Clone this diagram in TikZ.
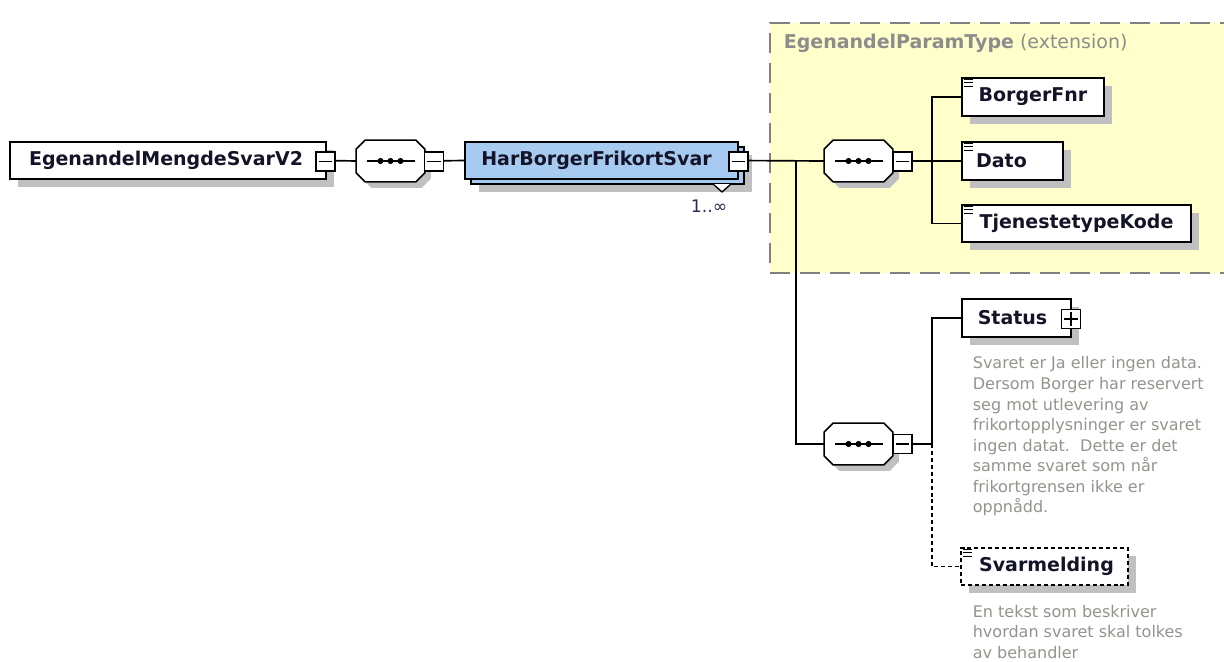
\documentclass[tikz,border=0pt]{standalone}
\usepackage{fontspec}
\setmainfont{DejaVu Sans}
\usetikzlibrary{shadows,calc}
\definecolor{shadowgray}{RGB}{192,192,194}
\definecolor{typeblue}{RGB}{166,202,240}
\definecolor{extyellow}{RGB}{255,255,204}
\definecolor{extborder}{RGB}{128,128,128}
\definecolor{desctext}{RGB}{150,146,140}
\definecolor{titletext}{RGB}{140,140,140}
\definecolor{labelcolor}{RGB}{20,20,40}
\definecolor{multcolor}{RGB}{48,40,80}
\newcommand{\spx}{0.75pt}
\newcommand{\lblfont}{\fontsize{14.25}{17}\selectfont\bfseries}
\newcommand{\dscfont}{\fontsize{12}{15.4}\selectfont}
% octagon (sequence compositor) drawn around a named placeholder node
\newcommand{\octagon}[1]{%
  \fill[shadowgray]
    ($(#1.north west)+(15,6)$) -- ($(#1.north east)+(-3,6)$) -- ($(#1.north east)+(6,15)$) --
    ($(#1.south east)+(6,-3)$) -- ($(#1.south east)+(-3,6)$) -- ($(#1.south west)+(15,6)$) --
    ($(#1.south west)+(6,-3)$) -- ($(#1.north west)+(6,15)$) -- cycle;
  \draw[line width=1.2pt, fill=white]
    ($(#1.north west)+(9,0)$) -- ($(#1.north east)+(-9,0)$) -- ($(#1.north east)+(0,9)$) --
    ($(#1.south east)+(0,-9)$) -- ($(#1.south east)+(-9,0)$) -- ($(#1.south west)+(9,0)$) --
    ($(#1.south west)+(0,-9)$) -- ($(#1.north west)+(0,9)$) -- cycle;
  \draw[line width=1.2pt] ($(#1.center)+(-24,0)$) -- ($(#1.center)+(24,0)$);
  \foreach \dx in {-10,0,10} {\fill ($(#1.center)+(\dx,0)$) circle[radius=2.3pt];}
}
% "simple content" icon in top-left corner of an element box
\newcommand{\simpleicon}[1]{%
  \foreach \dy in {2.5,5.8,9.1} {\draw[line width=0.8pt] ($(#1.north west)+(2.5,\dy)$) -- ($(#1.north west)+(11.5,\dy)$);}
}
\begin{document}
\begin{tikzpicture}[x=0.75pt,y=-0.75pt, line width=1.25pt,
  elem/.style={draw=black, line width=1.5pt, fill=white, inner sep=0pt, font=\lblfont, text=labelcolor,
    drop shadow={shadow xshift=6pt, shadow yshift=-6pt, fill=shadowgray, opacity=1}},
  typeelem/.style={draw=black, line width=1.5pt, fill=typeblue, inner sep=0pt, font=\lblfont, text=labelcolor},
  optelem/.style={elem, dashed, dash pattern=on 3pt off 2.2pt},
  seqholder/.style={draw=none, minimum width=67*\spx, minimum height=40*\spx, inner sep=0pt},
  togglebox/.style={draw=black, line width=1.1pt, fill=white, minimum size=19*\spx, inner sep=0pt},
  minus/.style={togglebox, path picture={\draw[line width=1.1pt] ([xshift=-5pt]path picture bounding box.center) -- ([xshift=5pt]path picture bounding box.center);}},
  plus/.style={togglebox, path picture={\draw[line width=1.1pt] ([xshift=-5pt]path picture bounding box.center) -- ([xshift=5pt]path picture bounding box.center) ([yshift=-5pt]path picture bounding box.center) -- ([yshift=5pt]path picture bounding box.center);}},
  desc/.style={anchor=north west, inner sep=0pt, align=left, font=\dscfont, text=desctext},
  conn/.style={line width=1.25pt, draw=black}
]
\useasboundingbox (0,0) rectangle (1224,661);

% extension area
\fill[extyellow] (770,23) rectangle (1240,273);
\draw[extborder, line width=1.5pt, dash pattern=on 15pt off 7.5pt] (1240,23) -- (770,23) -- (770,273) -- (1240,273);
\node[anchor=west, inner sep=0pt, text=titletext, font=\fontsize{14.25}{17}\selectfont] (exttitle) at (783,43) {\bfseries EgenandelParamType\mdseries\ (extension)};

% placeholders for compositors
\node[seqholder] (s1) at (390.5,161) {};
\node[seqholder] (s2) at (858.5,161) {};
\node[seqholder] (s3) at (858.5,444) {};

% element boxes
\node[elem, minimum width=316*\spx, minimum height=37*\spx] (root) at (168,160.5) {\kern-3pt EgenandelMengdeSvarV2};

% stacked type box (back copy + shadow)
\fill[shadowgray] (479,155) rectangle (752,192);
\draw[line width=1.5pt, fill=typeblue] (471,147) rectangle (744,184);
\node[typeelem, minimum width=273*\spx, minimum height=37*\spx] (har) at (601.5,160.5) {HarBorgerFrikortSvar\kern7.5pt};
\draw[line width=1pt, fill=white] (713,184) -- (722,192) -- (731,184);
\node[inner sep=0pt, font=\fontsize{13}{15}\selectfont, text=multcolor] (mult) at (709,206) {1..∞};

\node[elem, minimum width=142*\spx, minimum height=38*\spx] (borger) at (1033,97) {BorgerFnr};
\node[elem, minimum width=101*\spx, minimum height=38*\spx] (dato) at (1012.5,161) {Dato\kern16.5pt};
\node[elem, minimum width=229*\spx, minimum height=37*\spx] (tjen) at (1076.5,223.5) {TjenestetypeKode};
\node[elem, minimum width=109*\spx, minimum height=38*\spx] (status) at (1016.5,318) {Status\kern6pt};
\node[optelem, minimum width=167*\spx, minimum height=37*\spx] (svar) at (1044.5,566.5) {\kern3pt Svarmelding};

\simpleicon{borger}
\simpleicon{dato}
\simpleicon{tjen}
\simpleicon{svar}

% connectors
\coordinate (j1) at (796,161);
\coordinate (j2) at (932,161);
\coordinate (j3) at (932,444);
\draw[conn] (root.east) -- (s1.west);
\draw[conn] (s1.east) -- (har.west);
\draw[conn] (har.east) -- (s2.west);
\draw[conn] (j1) |- (s3.west);
\draw[conn] (s2.east) -- (dato.west);
\draw[conn] (j2) |- (borger.west);
\draw[conn] (j2) |- (tjen.west);
\draw[conn] (s3.east) -- (j3) |- (status.west);
\draw[conn, dash pattern=on 3pt off 2.2pt] (j3) |- (svar.west);

% compositors
\octagon{s1}
\octagon{s2}
\octagon{s3}

% toggles
\node[minus] (rootminus) at (325.5,161.5) {};
\node[minus] (s1minus) at (434,161.5) {};
\node[minus] (harminus) at (738.5,161.5) {};
\node[minus] (s2minus) at (902.5,161.5) {};
\node[minus] (s3minus) at (902.5,444) {};
\node[plus] (statusplus) at (1071,319) {};

% documentation
\node[desc] (statusdoc) at (972,356) {Svaret er Ja eller ingen data.\\Dersom Borger har reservert\\seg mot utlevering av\\frikortopplysninger er svaret\\ingen datat.\ \ Dette er det\\samme svaret som når\\frikortgrensen ikke er\\oppnådd.};
\node[desc] (svardoc) at (972,604) {En tekst som beskriver\\hvordan svaret skal tolkes\\av behandler};
\end{tikzpicture}
\end{document}
